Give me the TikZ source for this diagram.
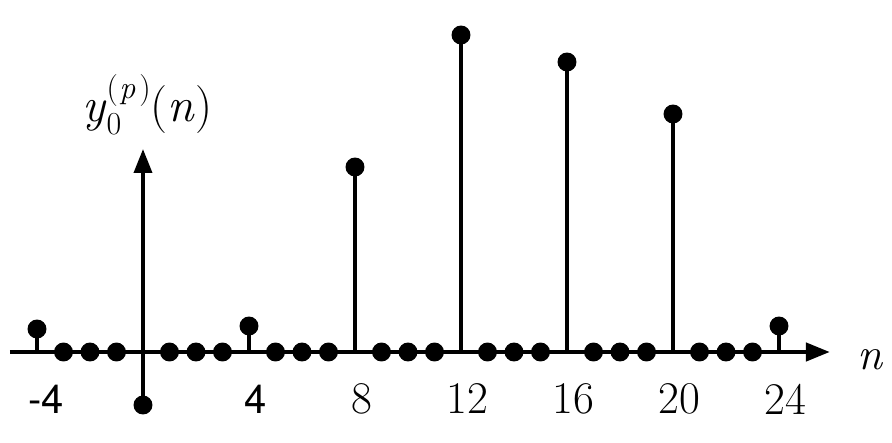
\documentclass[tikz,border=0pt]{standalone}
\usepackage{fontspec}
\newfontfamily\arialfont{TeX Gyre Heros}
\usetikzlibrary{arrows.meta,positioning}

\begin{document}
\begin{tikzpicture}[
            x = 19.875pt, y = 7.5pt,
            dot/.style = {circle, fill = black, inner sep = 0pt, minimum size = 14.2pt},
            stem/.style = {line width = 2.8pt},
            axis/.style = {line width = 3.3pt, -{Triangle[length = 18pt, width = 13.5pt]}},
            ticklabel/.style = {font = \fontsize{34}{40}\selectfont, inner sep = 0pt},
            sanslabel/.style = {font = \arialfont\fontsize{30}{36}\selectfont, inner sep = 0pt}]
            \useasboundingbox (-5.396,-9.0) rectangle (28.264,35.2);
            % axes
            \coordinate (xstart) at (-5.02,0);
            \coordinate (xend) at (25.92,0);
            \coordinate (ytip) at (0,20.3);
            \draw[axis] (xstart) -- (xend);
            \node[dot] (d0) at (0,-5.3) {};
            \draw[axis, line width = 2.8pt] (d0.center) -- (ytip);
            % non-zero samples
            \foreach \name/\n/\h in {m4/-4/2.3, p4/4/2.6, p8/8/18.5, p12/12/31.7,
                                     p16/16/29.0, p20/20/23.8, p24/24/2.6} {
                \coordinate (b\name) at (\n,0);
                \node[dot] (d\name) at (\n,\h) {};
                \draw[stem] (b\name) -- (d\name.center);
            }
            % zero samples
            \foreach \n [count = \k] in {-3,-2,-1,1,2,3,5,6,7,9,10,11,13,14,15,17,18,19,21,22,23}
                \node[dot] (z\k) at (\n,0) {};
            % labels
            \node[font = \fontsize{34}{40}\selectfont\itshape, inner sep = 0pt] (nlabel) at (27.43,-0.8) {n};
            \node[anchor = base west, inner sep = 0pt, font = \fontsize{36}{42}\selectfont] (ylabel) at (-2.3,23.0)
                {\textit{y}\makebox[0pt][l]{\raisebox{-0.26em}{\fontsize{24}{26}\selectfont 0}}%
                 \raisebox{0.48em}{\fontsize{24}{26}\selectfont (\kern0.05em\textit{p}\kern0.12em)}(\textit{n})};
            \node[sanslabel] (lm4) at (-3.65,-4.7) {-4};
            \node[sanslabel] (lp4) at (4.25,-4.7) {4};
            \foreach \n in {8,12,16,20,24}
                \node[ticklabel] (l\n) at (\n+0.25,-4.7) {\n};
        \end{tikzpicture}
\end{document}
